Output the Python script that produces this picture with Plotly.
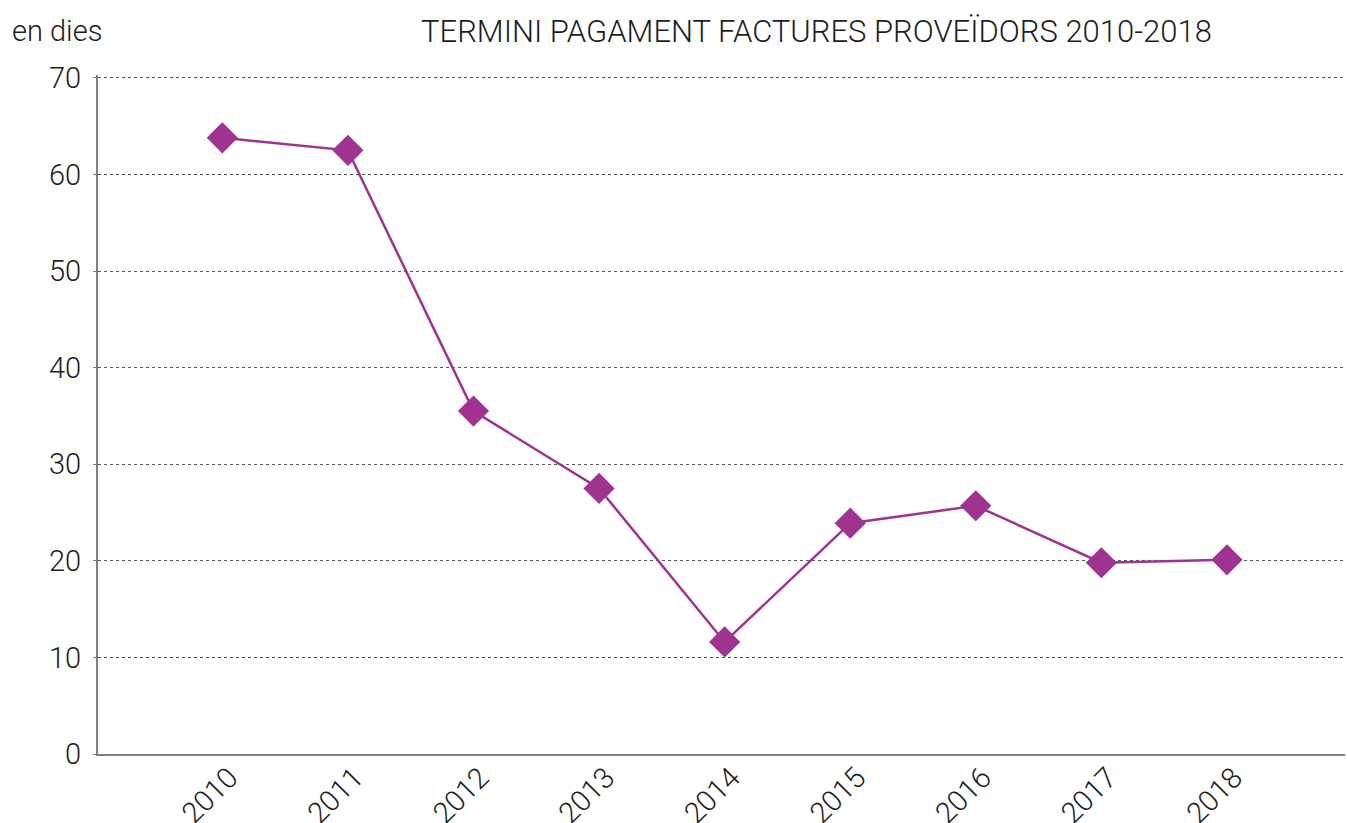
import plotly.graph_objects as go

years = ["2010", "2011", "2012", "2013", "2014", "2015", "2016", "2017", "2018"]
days = [63.8, 62.5, 35.5, 27.5, 11.6, 23.9, 25.7, 19.8, 20.1]
y_ticks = [0, 10, 20, 30, 40, 50, 60, 70]

color = "#a0338f"
font_family = "Roboto, 'DejaVu Sans', sans-serif"
text_color = "#1e1e1e"

fig = go.Figure()
fig.add_trace(go.Scatter(
    x=list(range(len(years))), y=days, mode="lines+markers",
    line=dict(color=color, width=2.5),
    marker=dict(symbol="diamond", size=24, color=color),
    showlegend=False, hoverinfo="y",
))

fig.update_layout(
    width=1347, height=823,
    margin=dict(l=98, r=2, t=75, b=69, autoexpand=False),
    plot_bgcolor="white", paper_bgcolor="white",
    font=dict(family=font_family, color=text_color, size=24),
    xaxis=dict(
        range=[-0.99, 8.94], automargin=False,
        tickmode="array", tickvals=list(range(len(years))), ticktext=years,
        tickangle=-45, showgrid=False, zeroline=False,
        showline=True, linecolor="#7f7f7f", linewidth=2,
        ticks="", ticklabelstandoff=-7, ticklabelshift=7,
        tickfont=dict(size=29, color=text_color, weight=300),
    ),
    yaxis=dict(
        range=[0, 70.3], tickvals=y_ticks, automargin=False,
        showgrid=True, gridcolor="#555555", griddash="dot", gridwidth=1,
        zeroline=False, showline=True, linecolor="#7f7f7f", linewidth=2,
        ticks="outside", ticklen=3, tickcolor="#7f7f7f",
        ticklabelstandoff=6,
        tickfont=dict(size=29, color=text_color, weight=300),
    ),
)

plot_w = 1347 - 98 - 2
plot_h = 823 - 75 - 69
fig.add_annotation(text="en dies", xref="paper", yref="paper",
                   x=(10 - 98) / plot_w, y=(823 - 69 - 31) / plot_h,
                   xanchor="left", yanchor="middle", showarrow=False,
                   font=dict(size=29, color=text_color, weight=300))
fig.add_annotation(text="TERMINI PAGAMENT FACTURES PROVEÏDORS 2010-2018",
                   xref="paper", yref="paper",
                   x=(816 - 98) / plot_w, y=(823 - 69 - 31) / plot_h,
                   xanchor="center", yanchor="middle", showarrow=False,
                   font=dict(size=31, color=text_color, weight=300))

fig.write_html("out.html")
